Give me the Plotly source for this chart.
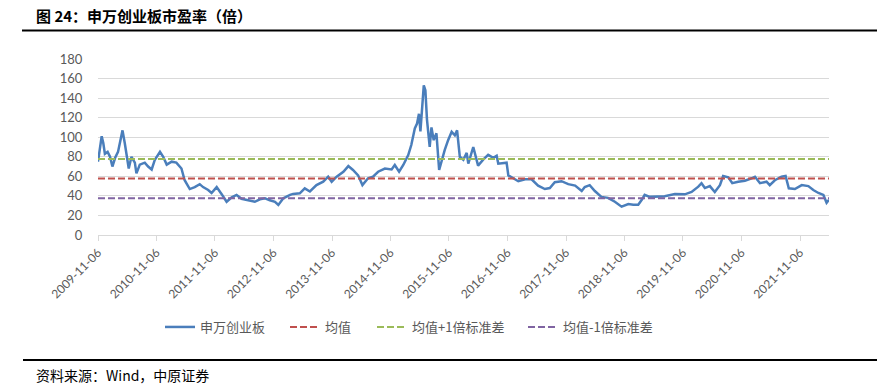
import plotly.graph_objects as go

# ---- data ----
dates = [
    "2009-11-06", "2009-11-18", "2009-11-29", "2009-12-09", "2009-12-19", "2010-01-05",
    "2010-01-20", "2010-02-04", "2010-02-21", "2010-03-11", "2010-03-28", "2010-04-08",
    "2010-04-22", "2010-05-03", "2010-05-17", "2010-06-03", "2010-06-24", "2010-07-04",
    "2010-07-25", "2010-08-25", "2010-09-15", "2010-10-07", "2010-10-27", "2010-11-28",
    "2010-12-18", "2011-01-09", "2011-02-09", "2011-03-10", "2011-04-11", "2011-05-01",
    "2011-06-02", "2011-07-03", "2011-08-03", "2011-08-24", "2011-09-25", "2011-10-16",
    "2011-11-17", "2011-12-17", "2012-01-18", "2012-02-19", "2012-03-20", "2012-04-20",
    "2012-05-31", "2012-07-12", "2012-08-13", "2012-09-14", "2012-10-14", "2012-11-15",
    "2012-12-06", "2013-01-06", "2013-02-17", "2013-03-08", "2013-04-19", "2013-05-20",
    "2013-06-21", "2013-08-01", "2013-09-12", "2013-10-13", "2013-11-04", "2013-12-05",
    "2014-01-16", "2014-02-16", "2014-03-17", "2014-04-18", "2014-05-15", "2014-06-19",
    "2014-07-20", "2014-08-21", "2014-10-02", "2014-11-13", "2014-12-03", "2014-12-30",
    "2015-01-25", "2015-02-25", "2015-03-16", "2015-04-07", "2015-04-21", "2015-05-03",
    "2015-05-12", "2015-05-24", "2015-06-02", "2015-06-12", "2015-06-22", "2015-07-09",
    "2015-07-20", "2015-08-03", "2015-08-20", "2015-09-06", "2015-09-21", "2015-10-11",
    "2015-11-01", "2015-11-23", "2015-12-13", "2015-12-27", "2016-01-13", "2016-02-04",
    "2016-02-25", "2016-03-06", "2016-04-06", "2016-05-06", "2016-06-07", "2016-07-08",
    "2016-08-09", "2016-08-30", "2016-09-09", "2016-10-10", "2016-10-31", "2016-11-11",
    "2016-12-12", "2017-01-12", "2017-02-24", "2017-04-05", "2017-05-16", "2017-06-27",
    "2017-07-28", "2017-08-28", "2017-10-09", "2017-11-20", "2018-01-02", "2018-02-12",
    "2018-03-03", "2018-04-03", "2018-05-05", "2018-06-15", "2018-07-26", "2018-09-07",
    "2018-10-19", "2018-11-30", "2018-12-31", "2019-01-31", "2019-02-22", "2019-03-12",
    "2019-04-13", "2019-05-14", "2019-07-15", "2019-09-17", "2019-11-18", "2019-12-30",
    "2020-02-10", "2020-03-01", "2020-03-22", "2020-04-22", "2020-05-23", "2020-06-24",
    "2020-07-14", "2020-08-15", "2020-09-09", "2020-10-16", "2020-11-27", "2021-01-08",
    "2021-01-29", "2021-03-01", "2021-04-11", "2021-05-01", "2021-06-02", "2021-07-13",
    "2021-08-08", "2021-08-28", "2021-10-05", "2021-11-17", "2021-12-28", "2022-01-28",
    "2022-03-01", "2022-04-01", "2022-04-21", "2022-05-06",
]
pe = [
    75, 87, 101, 94, 83, 85,
    80, 70, 79, 85, 97, 107,
    94, 80, 68, 80, 74, 63,
    72, 74, 70, 67, 77, 85,
    80, 72, 75, 74, 68, 56,
    47, 49, 52, 49, 46, 43,
    49, 42, 34, 38.5, 41, 37,
    35.5, 34, 36.5, 37.5, 35.5, 34,
    30.7, 37.5, 41, 42, 42.6, 47.7,
    44.5, 51, 54.5, 59.6, 54.5, 59.6,
    64.7, 70.5, 66.5, 61, 51, 58,
    59.6, 64.7, 68, 67, 71.6, 64.7,
    71.6, 81.8, 92, 109, 114, 124,
    106, 131, 153, 148, 118, 90,
    110, 97, 104, 66.5, 76, 87,
    97, 105.6, 102, 107, 80, 77,
    84, 73, 90, 71, 77, 82,
    79, 81, 73, 74, 74, 61,
    58, 55, 57, 57, 50.5, 47,
    48, 54, 55, 52, 50.5, 45,
    49, 51, 45, 39, 38, 34,
    29, 31.7, 31, 31, 36, 41,
    39, 39, 39.6, 42, 41.6, 44,
    49.4, 53, 48, 50, 44, 51,
    60.3, 59, 53, 54.5, 55.5, 58,
    59.6, 53, 54.5, 51, 56, 59.6,
    60.3, 47.7, 47, 51, 50, 46,
    43, 41, 33, 36,
]
mean_pe = 57.7
mean_plus_sd = 77.8
mean_minus_sd = 37.6

tick_dates = [
    "2009-11-06", "2010-11-06", "2011-11-06", "2012-11-06", "2013-11-06",
    "2014-11-06", "2015-11-06", "2016-11-06", "2017-11-06", "2018-11-06",
    "2019-11-06", "2020-11-06", "2021-11-06",
]
y_ticks = [0, 20, 40, 60, 80, 100, 120, 140, 160, 180]

series_names = ["申万创业板", "均值", "均值+1倍标准差", "均值-1倍标准差"]
title_text = "图 24：申万创业板市盈率（倍）"
source_text = "资料来源：Wind，中原证券"

x_start, x_end = dates[0], dates[-1]

L, R, T, B = 98, 48, 59, 149
W, H = 877, 384
pw = W - L - R
ph = H - T - B

def px_x(p):
    return (p - L) / pw

def px_y(p):
    return (H - B - p) / ph

legend_font = dict(family="Noto Sans CJK SC", size=13, color="#595959")
legend_ids = ["legend", "legend2", "legend3", "legend4"]
legend_left = [165, 290, 377, 528]

fig = go.Figure()
fig.add_trace(go.Scatter(
    x=dates, y=pe, mode="lines", name=series_names[0], legend=legend_ids[0],
    line=dict(color="#4A7EBB", width=2.5),
))
for i, (val, col) in enumerate([
    (mean_pe, "#C0504D"),
    (mean_plus_sd, "#9BBB59"),
    (mean_minus_sd, "#8064A2"),
], start=1):
    fig.add_trace(go.Scatter(
        x=[x_start, x_end], y=[val, val], mode="lines", name=series_names[i],
        legend=legend_ids[i],
        line=dict(color=col, width=2, dash="7px,3px"),
    ))

legends = {}
for lid, left in zip(legend_ids, legend_left):
    legends[lid] = dict(
        orientation="h", x=px_x(left - 5), xanchor="left", y=px_y(327), yanchor="middle",
        font=legend_font, bgcolor="rgba(0,0,0,0)", borderwidth=0, itemwidth=30,
    )

fig.update_layout(
    width=W, height=H,
    margin=dict(l=L, r=R, t=T, b=B, pad=0),
    paper_bgcolor="white", plot_bgcolor="white",
    font=dict(family="Lato, Open Sans, sans-serif", size=12, color="#595959"),
    showlegend=True,
    xaxis=dict(
        type="date", range=[x_start, x_end],
        tickmode="array", tickvals=tick_dates, ticktext=tick_dates,
        tickangle=-45, ticks="outside", ticklen=5, tickcolor="#D9D9D9",
        showgrid=False, showline=True, linecolor="#D9D9D9", linewidth=1,
        tickfont=dict(family="Lato, sans-serif", size=12, color="#595959"),
        zeroline=False, fixedrange=True,
    ),
    yaxis=dict(
        range=[0, 180], tickmode="array", tickvals=y_ticks,
        showgrid=True, gridcolor="#D9D9D9", gridwidth=1,
        showline=False, zeroline=False,
        ticks="outside", ticklen=12, tickcolor="rgba(0,0,0,0)",
        tickfont=dict(family="Lato, sans-serif", size=13, color="#595959"),
        fixedrange=True,
    ),
    **legends,
)

# title and source texts with rules
fig.add_annotation(
    xref="paper", yref="paper", x=px_x(34), y=px_y(16), xanchor="left", yanchor="middle",
    text="<b>" + title_text + "</b>", showarrow=False,
    font=dict(family="Noto Sans CJK SC", size=15, color="#000000"),
)
fig.add_shape(type="line", xref="paper", yref="paper",
              x0=px_x(22), x1=px_x(877), y0=px_y(30.5), y1=px_y(30.5),
              line=dict(color="#000000", width=2))
fig.add_shape(type="line", xref="paper", yref="paper",
              x0=px_x(23), x1=px_x(877), y0=px_y(360), y1=px_y(360),
              line=dict(color="#000000", width=2))
fig.add_annotation(
    xref="paper", yref="paper", x=px_x(34), y=px_y(375), xanchor="left", yanchor="middle",
    text=source_text, showarrow=False,
    font=dict(family="Noto Sans CJK SC", size=14, color="#000000"),
)

fig.write_html(
    "out.html",
    config={"displayModeBar": False},
    post_script="document.body.style.margin='0px';document.body.style.overflow='hidden';",
)
